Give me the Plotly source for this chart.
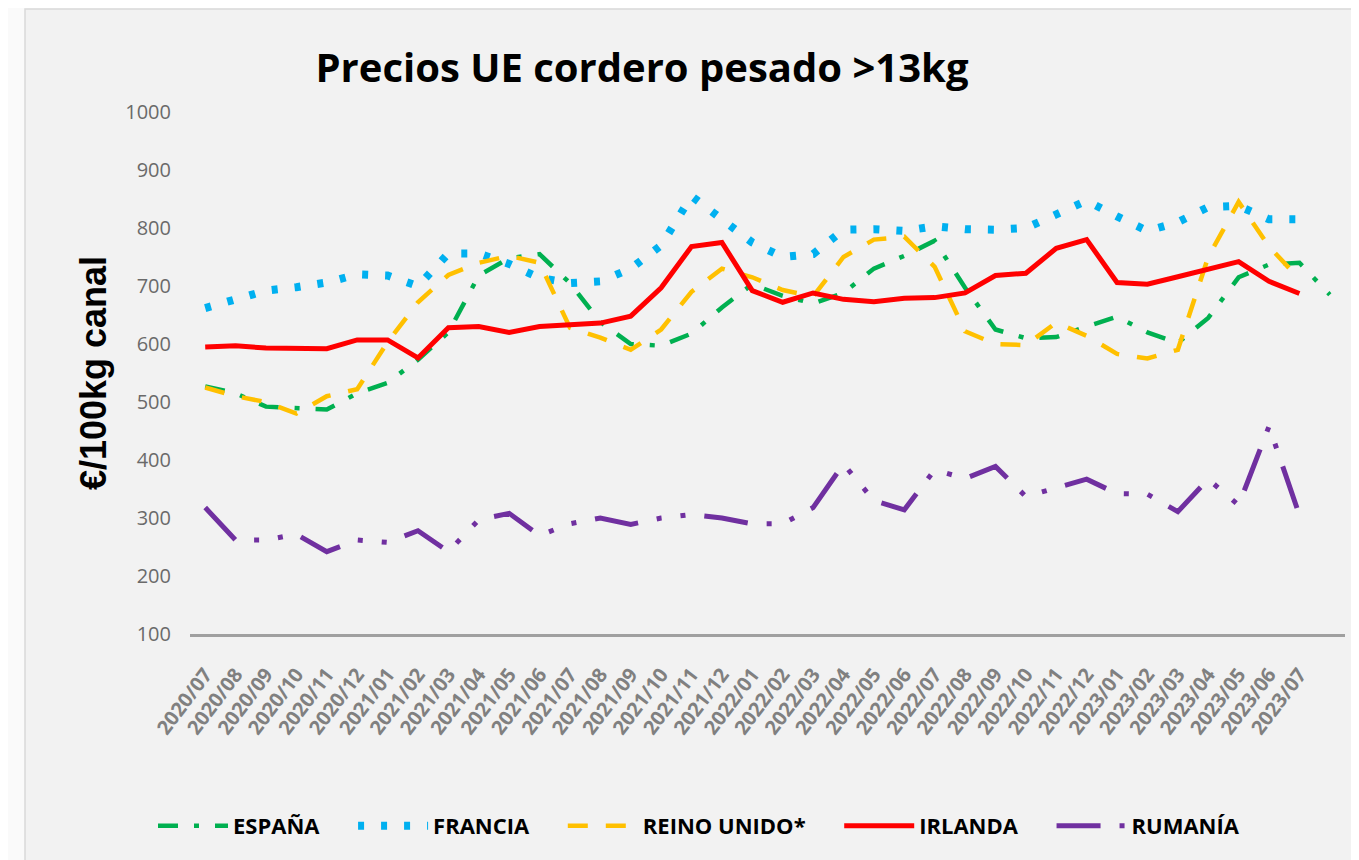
import plotly.graph_objects as go

months = ["2020/07", "2020/08", "2020/09", "2020/10", "2020/11", "2020/12",
          "2021/01", "2021/02", "2021/03", "2021/04", "2021/05", "2021/06",
          "2021/07", "2021/08", "2021/09", "2021/10", "2021/11", "2021/12",
          "2022/01", "2022/02", "2022/03", "2022/04", "2022/05", "2022/06",
          "2022/07", "2022/08", "2022/09", "2022/10", "2022/11", "2022/12",
          "2023/01", "2023/02", "2023/03", "2023/04", "2023/05", "2023/06",
          "2023/07"]

espana = [527, 515, 492, 490, 487, 515, 533, 573, 620, 718, 748, 755,
          705, 638, 600, 597, 618, 663, 703, 683, 670, 688, 730, 752,
          778, 697, 625, 610, 612, 630, 647, 620, 602, 645, 715, 737,
          740, 685]
francia = [662, 678, 692, 698, 706, 720, 718, 700, 756, 756, 738, 714,
           705, 708, 730, 770, 855, 815, 775, 750, 755, 797, 798, 795,
           803, 798, 797, 800, 825, 847, 820, 795, 810, 836, 838, 815,
           815]
reino_unido = [525, 510, 500, 480, 510, 522, 603, 672, 719, 740, 752, 740,
               628, 611, 590, 625, 690, 730, 715, 693, 682, 750, 780, 785,
               733, 622, 600, 598, 637, 614, 583, 575, 590, 750, 845, 768,
               712]
irlanda = [595, 597, 593, 593, 592, 607, 607, 576, 628, 630, 620, 630,
           633, 636, 648, 697, 768, 775, 692, 672, 688, 677, 673, 679,
           680, 688, 718, 722, 765, 780, 706, 703, 716, 730, 742, 708,
           687]
rumania = [318, 262, 262, 272, 242, 262, 258, 278, 242, 297, 308, 270,
           290, 300, 289, 300, 306, 300, 290, 290, 318, 393, 330, 314,
           383, 368, 389, 337, 352, 367, 342, 341, 311, 367, 322, 458,
           305]

y_ticks = [100, 200, 300, 400, 500, 600, 700, 800, 900, 1000]

series = [
    ("ESPAÑA", espana, "#00B050", 4.5, "20px,16px,5px,16px"),
    ("FRANCIA", francia, "#00B0F0", 8, "6px,17px"),
    ("REINO UNIDO*", reino_unido, "#FFC000", 4.5, "20px,18px"),
    ("IRLANDA", irlanda, "#FF0000", 5, "solid"),
    ("RUMANÍA", rumania, "#7030A0", 5, "44px,19px,5px,19px,5px,19px"),
]

PAD = "\u00a0\u00a0\u00a0\u00a0\u00a0"

fig = go.Figure()
for name, vals, color, width, dash in series:
    fig.add_trace(go.Scatter(
        x=list(range(len(vals))), y=vals, name=name + PAD, mode="lines",
        line=dict(color=color, width=width, dash=dash),
    ))

# plot area in figure pixels: x 182..1337, y 104..626
L, R, T, B = 182, 1337, 104, 626
W, H = R - L, B - T

# background panel (chart area)
fig.add_shape(type="rect", xref="paper", yref="paper",
              x0=(17 - L) / W, x1=(1380 - L) / W,
              y0=(B - 880) / H, y1=(B - 1) / H,
              fillcolor="#f2f2f2", line=dict(color="#d9d9d9", width=1.5),
              layer="below")

fig.update_layout(
    width=1359, height=860, autosize=False,
    margin=dict(l=L, r=1359 - R, t=T, b=860 - B),
    paper_bgcolor="#fafafa", plot_bgcolor="rgba(0,0,0,0)",
    title=dict(text="<b>Precios UE cordero pesado >13kg</b>",
               font=dict(family="Open Sans", size=40, color="#000000"),
               x=634 / 1359, xanchor="center", xref="container",
               y=1 - 60 / 860, yanchor="middle", yref="container"),
    showlegend=True,
    legend=dict(orientation="h", xref="container", yref="container",
                x=705 / 1359, xanchor="center", y=1 - 818 / 860,
                yanchor="middle", font=dict(family="Open Sans", size=22,
                                            color="#000000", weight="bold"),
                bgcolor="rgba(0,0,0,0)", itemwidth=70),
    xaxis=dict(range=[-0.5, 37.5], tickmode="array",
               tickvals=list(range(len(months))), ticktext=months,
               tickangle=-53, showgrid=False, zeroline=False,
               showline=True, linecolor="#a0a0a0", linewidth=2.5,
               ticks="outside", ticklen=18, tickcolor="rgba(0,0,0,0)",
               tickfont=dict(family="Open Sans", size=20, color="#808080",
                             weight="bold")),
    yaxis=dict(range=[100, 1000], tickmode="array", tickvals=y_ticks,
               showgrid=False, zeroline=False, showline=False,
               ticks="outside", ticklen=14, tickcolor="rgba(0,0,0,0)",
               tickfont=dict(family="Open Sans", size=20, color="#6a6a6a"),
               title=dict(text="<b>€/100kg canal</b>", standoff=7,
                          font=dict(family="Liberation Sans", size=36,
                                    color="#000000"))),
)

fig.write_html("out.html")
